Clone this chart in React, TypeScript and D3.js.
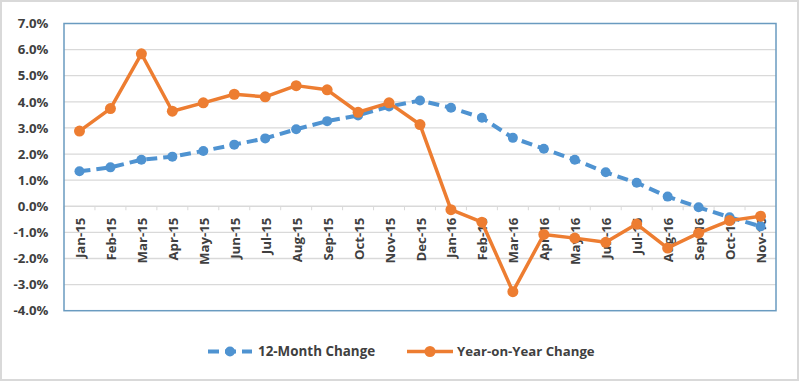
import React from "react";
import * as d3 from "d3";

const categories = ["Jan-15","Feb-15","Mar-15","Apr-15","May-15","Jun-15","Jul-15","Aug-15","Sep-15","Oct-15","Nov-15","Dec-15","Jan-16","Feb-16","Mar-16","Apr-16","May-16","Jun-16","Jul-16","Aug-16","Sep-16","Oct-16","Nov-16"];
const twelveMonth = [1.34,1.49,1.78,1.90,2.12,2.36,2.60,2.95,3.26,3.48,3.82,4.05,3.77,3.39,2.62,2.20,1.78,1.30,0.90,0.37,-0.04,-0.42,-0.77];
const yearOnYear = [2.88,3.74,5.84,3.64,3.96,4.29,4.19,4.62,4.46,3.60,3.96,3.13,-0.13,-0.61,-3.27,-1.08,-1.22,-1.38,-0.68,-1.60,-1.03,-0.55,-0.38];
const yTicks = [7,6,5,4,3,2,1,0,-1,-2,-3,-4];

const W = 800, H = 382;
const left = 64, right = 776, top = 23.5, bottom = 310.7;
const BLUE = "#4f93d1";
const ORANGE = "#ed7d31";
const TEXT = "#404040";
const FONT = "'Open Sans', 'Liberation Sans', sans-serif";

export default function App() {
  const x = d3.scaleBand<string>().domain(categories).range([left, right]);
  const y = d3.scaleLinear().domain([-4, 7]).range([bottom, top]);
  const cx = (c: string) => (x(c) as number) + x.bandwidth() / 2;
  const line = d3.line<number>().x((_, i) => cx(categories[i])).y(d => y(d));
  const y0 = y(0);

  return (
    <svg width={W} height={H} style={{ position: "absolute", left: 0, top: 0 }} fontFamily={FONT}>
      <rect x={0} y={0} width={W} height={H} fill="#fff" />
      <rect x={1} y={1} width={W - 3} height={H - 3} fill="none" stroke="#d9d9d9" strokeWidth={2} />
      {yTicks.map(t => (
        <g key={t}>
          {t !== 0 && t !== 7 && t !== -4 && (
            <line x1={left} x2={right} y1={y(t)} y2={y(t)} stroke="#d9d9d9" strokeWidth={1.3} />
          )}
          <text x={48.5} y={y(t)} dy="0.36em" textAnchor="end" fontSize={13.2} fontWeight="bold" fill={TEXT}>
            {t.toFixed(1) + "%"}
          </text>
        </g>
      ))}
      <line x1={left} x2={right} y1={y0} y2={y0} stroke="#d9d9d9" strokeWidth={1.3} />
      {categories.map((c, i) => (
        <line key={"tk" + i} x1={(x(c) as number)} x2={(x(c) as number)} y1={y0} y2={y0 + 4} stroke="#d9d9d9" strokeWidth={1} />
      ))}
      {categories.map(c => (
        <text key={c} transform={`translate(${cx(c) + 5.5},${y0 + 11.5}) rotate(-90)`} textAnchor="end" fontSize={13.2} fontWeight="bold" fill={TEXT}>
          {c}
        </text>
      ))}
      <rect x={left} y={top} width={right - left} height={bottom - top} fill="none" stroke="#6a9bc0" strokeWidth={1.5} />
      <path d={line(twelveMonth) || ""} fill="none" stroke={BLUE} strokeWidth={4} strokeDasharray="11 6" />
      {twelveMonth.map((v, i) => (
        <circle key={"b" + i} cx={cx(categories[i])} cy={y(v)} r={5} fill={BLUE} />
      ))}
      <path d={line(yearOnYear) || ""} fill="none" stroke={ORANGE} strokeWidth={3.5} strokeLinejoin="round" />
      {yearOnYear.map((v, i) => (
        <circle key={"o" + i} cx={cx(categories[i])} cy={y(v)} r={5.5} fill={ORANGE} />
      ))}
      <g>
        <line x1={208} x2={252} y1={351.5} y2={351.5} stroke={BLUE} strokeWidth={4} strokeDasharray="11 6" />
        <circle cx={230} cy={351.5} r={5} fill={BLUE} />
        <text x={258} y={351.5} dy="0.36em" fontSize={13.4} fontWeight="bold" fill={TEXT}>12-Month Change</text>
        <line x1={407} x2={453} y1={351.5} y2={351.5} stroke={ORANGE} strokeWidth={3.5} />
        <circle cx={430} cy={351.5} r={5.5} fill={ORANGE} />
        <text x={457} y={351.5} dy="0.36em" fontSize={13.2} fontWeight="bold" fill={TEXT}>Year-on-Year Change</text>
      </g>
    </svg>
  );
}
